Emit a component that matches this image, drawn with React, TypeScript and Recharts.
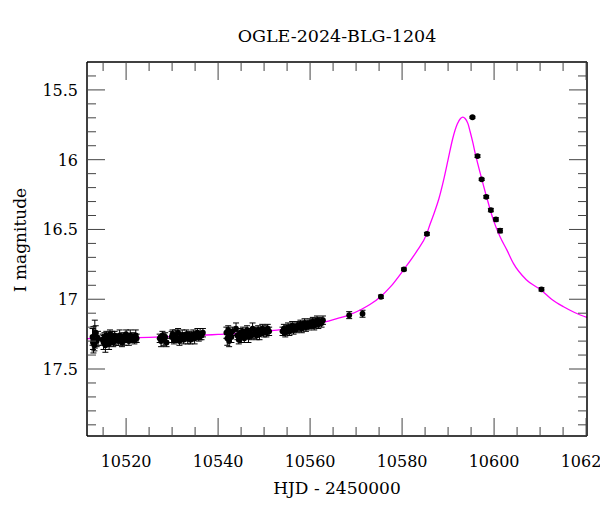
import React from 'react';
import { ComposedChart, XAxis, YAxis, Scatter, Line, ErrorBar } from 'recharts';

// observed photometry (HJD - 2450000, I mag, error)
const obsT = [
  10512.7, 10512.8, 10512.9, 10513.1, 10513.2, 10513.4, 10513.6, 10513.9,
  10514.9, 10515.1, 10515.3, 10515.5, 10515.7, 10515.9, 10516.1, 10516.3, 10516.5, 10516.8,
  10517.0, 10517.2, 10517.5, 10517.8, 10518.0, 10518.3, 10518.6, 10518.9, 10519.1, 10519.4,
  10519.7, 10520.0, 10520.3, 10520.6, 10520.9, 10521.2, 10521.5, 10521.8, 10522.1, 10522.3,
  10527.3, 10527.6, 10527.9, 10528.2, 10528.5, 10528.8,
  10529.9, 10530.1, 10530.4, 10530.7, 10531.0, 10531.3, 10531.6, 10531.9, 10532.2, 10532.5,
  10532.8, 10533.1, 10533.4, 10533.7, 10534.0, 10534.3, 10534.6, 10534.9, 10535.2, 10535.5,
  10535.8, 10536.1, 10536.4, 10536.7,
  10541.8, 10542.0, 10542.2, 10542.4, 10542.6, 10542.9, 10543.1,
  10543.9, 10544.2, 10544.5, 10544.8, 10545.1, 10545.4, 10545.7, 10546.0, 10546.3, 10546.6,
  10546.9, 10547.2, 10547.5, 10547.8, 10548.1, 10548.4, 10548.7, 10549.0, 10549.3, 10549.6,
  10549.9, 10550.2, 10550.5, 10550.8, 10551.1,
  10554.0, 10554.3, 10554.6, 10554.9, 10555.2, 10555.5, 10555.8, 10556.1, 10556.4, 10556.7,
  10557.0, 10557.3, 10557.6, 10557.9, 10558.2, 10558.5, 10558.8, 10559.1, 10559.4, 10559.7,
  10560.0, 10560.3, 10560.6, 10560.9, 10561.2, 10561.5, 10561.8, 10562.1, 10562.5, 10562.8,
  10568.5, 10571.4, 10575.4, 10580.4, 10585.4,
  10595.3, 10596.4, 10597.3, 10598.3, 10599.3, 10600.4, 10601.3, 10610.3,
];
const obsMag = [
  17.27, 17.31, 17.29, 17.33, 17.25, 17.24, 17.30, 17.28,
  17.29, 17.31, 17.27, 17.33, 17.26, 17.30, 17.28, 17.32, 17.25, 17.29,
  17.27, 17.31, 17.26, 17.29, 17.28, 17.30, 17.26, 17.28, 17.31, 17.27,
  17.29, 17.25, 17.28, 17.30, 17.26, 17.28, 17.27, 17.29, 17.26, 17.28,
  17.28, 17.30, 17.26, 17.29, 17.27, 17.31,
  17.27, 17.25, 17.29, 17.26, 17.28, 17.24, 17.30, 17.27, 17.26, 17.29,
  17.27, 17.25, 17.28, 17.26, 17.29, 17.27, 17.25, 17.28, 17.26, 17.24,
  17.27, 17.25, 17.26, 17.24,
  17.24, 17.28, 17.22, 17.30, 17.25, 17.27, 17.23,
  17.21, 17.26, 17.29, 17.24, 17.27, 17.23, 17.28, 17.25, 17.22, 17.27,
  17.24, 17.26, 17.21, 17.25, 17.23, 17.26, 17.22, 17.25, 17.23, 17.21,
  17.24, 17.22, 17.24, 17.21, 17.23,
  17.23, 17.21, 17.24, 17.22, 17.20, 17.23, 17.21, 17.19, 17.22, 17.20,
  17.21, 17.19, 17.20, 17.18, 17.21, 17.19, 17.17, 17.20, 17.18, 17.19,
  17.17, 17.18, 17.16, 17.19, 17.17, 17.15, 17.18, 17.16, 17.17, 17.15,
  17.114, 17.104, 16.982, 16.786, 16.531,
  15.696, 15.974, 16.141, 16.266, 16.361, 16.428, 16.509, 16.929,
];
const obsErr = [
  0.06, 0.05, 0.095, 0.04, 0.10, 0.05, 0.04, 0.05,
  0.04, 0.05, 0.03, 0.05, 0.03, 0.04, 0.03, 0.04, 0.03, 0.03,
  0.04, 0.03, 0.03, 0.04, 0.03, 0.03, 0.04, 0.03, 0.03, 0.03,
  0.04, 0.03, 0.03, 0.03, 0.04, 0.03, 0.03, 0.03, 0.04, 0.03,
  0.03, 0.04, 0.03, 0.04, 0.03, 0.03,
  0.04, 0.03, 0.03, 0.04, 0.03, 0.03, 0.03, 0.03, 0.04, 0.03,
  0.03, 0.03, 0.04, 0.03, 0.03, 0.03, 0.03, 0.04, 0.03, 0.03,
  0.03, 0.04, 0.03, 0.03,
  0.04, 0.05, 0.03, 0.04, 0.03, 0.04, 0.03,
  0.04, 0.03, 0.03, 0.03, 0.04, 0.03, 0.03, 0.03, 0.03, 0.04,
  0.03, 0.03, 0.04, 0.03, 0.03, 0.03, 0.03, 0.04, 0.03, 0.03,
  0.03, 0.03, 0.03, 0.03, 0.03,
  0.03, 0.03, 0.03, 0.03, 0.03, 0.03, 0.03, 0.03, 0.03, 0.03,
  0.03, 0.03, 0.03, 0.03, 0.03, 0.03, 0.03, 0.03, 0.03, 0.03,
  0.03, 0.03, 0.03, 0.03, 0.03, 0.03, 0.03, 0.03, 0.03, 0.03,
  0.025, 0.025, 0.012, 0.01, 0.01,
  0.007, 0.01, 0.008, 0.01, 0.012, 0.012, 0.015, 0.012,
];

// microlensing model curve
const modelT = [
  10511.5, 10518, 10525, 10532, 10540, 10545, 10550, 10555, 10558, 10561,
  10564, 10566, 10568.5, 10571, 10573, 10575.2, 10577.5, 10580.4, 10583.1, 10585.4,
  10586, 10587, 10588, 10589, 10590, 10591, 10592, 10592.7, 10593.2, 10593.7,
  10594.3, 10594.8, 10595.4, 10595.9, 10597, 10598.4, 10599.85, 10601.3, 10602.8, 10604.2,
  10607, 10610.2, 10612.5, 10615.1, 10617.5, 10620.2,
];
const modelMag = [
  17.282, 17.279, 17.273, 17.265, 17.252, 17.243, 17.23, 17.212, 17.197, 17.176,
  17.156, 17.138, 17.112, 17.075, 17.038, 16.985, 16.91, 16.786, 16.66, 16.528,
  16.47, 16.38, 16.28, 16.15, 16.0, 15.85, 15.745, 15.705, 15.695, 15.705,
  15.74, 15.8, 15.88, 15.955, 16.098, 16.27, 16.433, 16.552, 16.648, 16.743,
  16.86, 16.934, 17.0, 17.054, 17.095, 17.13,
];

const xTicks = [
  10515, 10520, 10525, 10530, 10535, 10540, 10545, 10550, 10555, 10560, 10565, 10570,
  10575, 10580, 10585, 10590, 10595, 10600, 10605, 10610, 10615, 10620,
];
const yTicks = [
  15.4, 15.5, 15.6, 15.7, 15.8, 15.9, 16.0, 16.1, 16.2, 16.3, 16.4, 16.5, 16.6,
  16.7, 16.8, 16.9, 17.0, 17.1, 17.2, 17.3, 17.4, 17.5, 17.6, 17.7, 17.8, 17.9,
];

const FONT = "'DejaVu Serif', serif";
const TICK_COLOR = '#444';

const obsData = obsT.map((t, i) => ({ t, mag: obsMag[i], err: obsErr[i] }));
const modelData = modelT.map((t, i) => ({ t, mag: modelMag[i] }));

const isMajorX = (v: number) => Math.abs(v % 20) < 1e-6;
const isMajorY = (v: number) => Math.abs(v * 2 - Math.round(v * 2)) < 1e-6;

const BottomTick = ({ x, y, payload }: any) => {
  const major = isMajorX(payload.value);
  return (
    <g>
      <line x1={x} y1={y} x2={x} y2={y - (major ? 18 : 9)} stroke={TICK_COLOR} />
      {major && (
        <text x={x} y={y + 31} textAnchor="middle" fontFamily={FONT} fontSize={16} fill="#000">
          {payload.value}
        </text>
      )}
    </g>
  );
};

const TopTick = ({ x, y, payload }: any) => (
  <line x1={x} y1={y} x2={x} y2={y + (isMajorX(payload.value) ? 18 : 9)} stroke={TICK_COLOR} />
);

const LeftTick = ({ x, y, payload }: any) => {
  const v = payload.value;
  const major = isMajorY(v);
  return (
    <g>
      <line x1={x} y1={y} x2={x + (major ? 18 : 9)} y2={y} stroke={TICK_COLOR} />
      {major && (
        <text x={x - 9} y={y + 6} textAnchor="end" fontFamily={FONT} fontSize={16} fill="#000">
          {String(Number(v.toFixed(1)))}
        </text>
      )}
    </g>
  );
};

const RightTick = ({ x, y, payload }: any) => (
  <line x1={x} y1={y} x2={x - (isMajorY(payload.value) ? 18 : 9)} y2={y} stroke={TICK_COLOR} />
);

const Dot = (p: any) => <circle cx={p.cx} cy={p.cy} r={2.9} fill="#000" />;

export default function App() {
  const axisLine = { stroke: '#000', strokeWidth: 1.5 };
  return (
    <div style={{ position: 'absolute', left: 0, top: 0, width: 600, height: 512, background: '#fff' }}>
      <ComposedChart width={600} height={512} margin={{ top: 61, right: 12, bottom: 0, left: 0 }}>
        <XAxis
          xAxisId="b" dataKey="t" type="number" orientation="bottom" height={76}
          domain={[10511.5, 10620.2]} allowDataOverflow ticks={xTicks} interval={0}
          tickSize={0} tickMargin={0} tickLine={false} axisLine={axisLine} tick={<BottomTick />}
        />
        <XAxis
          xAxisId="t" dataKey="t" type="number" orientation="top" height={1}
          domain={[10511.5, 10620.2]} allowDataOverflow ticks={xTicks} interval={0}
          tickSize={0} tickMargin={0} tickLine={false} axisLine={axisLine} tick={<TopTick />}
        />
        <YAxis
          yAxisId="l" dataKey="mag" type="number" orientation="left" width={87} reversed
          domain={[15.3, 17.98]} allowDataOverflow ticks={yTicks} interval={0}
          tickSize={0} tickMargin={0} tickLine={false} axisLine={axisLine} tick={<LeftTick />}
        />
        <YAxis
          yAxisId="r" dataKey="mag" type="number" orientation="right" width={1} reversed
          domain={[15.3, 17.98]} allowDataOverflow ticks={yTicks} interval={0}
          tickSize={0} tickMargin={0} tickLine={false} axisLine={axisLine} tick={<RightTick />}
        />
        <Scatter
          xAxisId="b" yAxisId="l" data={obsData} dataKey="mag" fill="#000"
          shape={Dot} isAnimationActive={false}
        >
          <ErrorBar dataKey="err" direction="y" width={3} stroke="#000" strokeWidth={1} />
        </Scatter>
        <Line
          xAxisId="b" yAxisId="l" data={modelData} dataKey="mag" type="monotone"
          stroke="#ff00ff" strokeWidth={1.3} dot={false} activeDot={false} isAnimationActive={false}
        />
      </ComposedChart>
      <svg width={600} height={512} style={{ position: 'absolute', left: 0, top: 0, pointerEvents: 'none' }}>
        <text x={337} y={42} textAnchor="middle" fontFamily={FONT} fontSize={17.5} fill="#000">
          OGLE-2024-BLG-1204
        </text>
        <text x={337} y={494} textAnchor="middle" fontFamily={FONT} fontSize={17} fill="#000">
          HJD - 2450000
        </text>
        <text
          x={0} y={0} transform="translate(26 240) rotate(-90)" textAnchor="middle"
          fontFamily={FONT} fontSize={17} fill="#000"
        >
          I magnitude
        </text>
      </svg>
    </div>
  );
}
